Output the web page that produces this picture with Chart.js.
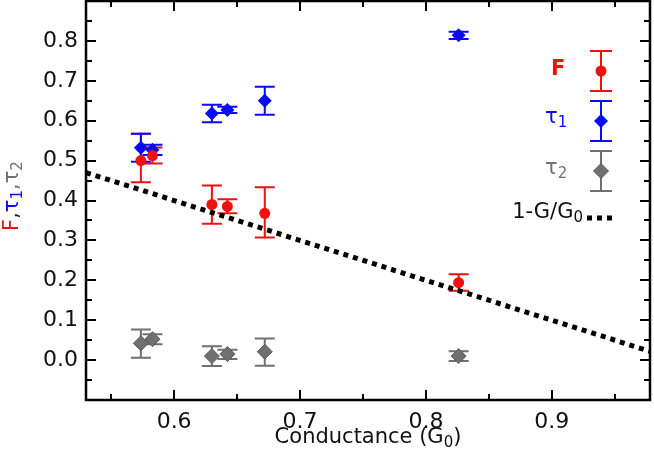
<!DOCTYPE html>
<html><head><meta charset="utf-8">
<script src="https://cdn.jsdelivr.net/npm/chart.js@4/dist/chart.umd.min.js"></script>
<style>html,body{margin:0;padding:0;background:#fff}canvas{display:block}</style>
</head><body>
<canvas id="c" width="654" height="460"></canvas>
<script>
// Data
const conductance = [0.5736, 0.5828, 0.630, 0.6423, 0.672, 0.826];
const F      = [0.500, 0.5125, 0.390, 0.385, 0.368, 0.194];
const F_lo   = [0.446, 0.493, 0.342, 0.368, 0.307, 0.174];
const F_hi   = [0.567, 0.533, 0.4375, 0.403, 0.433, 0.215];
const tau1    = [0.532, 0.527, 0.618, 0.627, 0.650, 0.814];
const tau1_lo = [0.497, 0.514, 0.596, 0.619, 0.615, 0.805];
const tau1_hi = [0.567, 0.540, 0.640, 0.635, 0.685, 0.823];
const tau2    = [0.042, 0.0525, 0.010, 0.015, 0.021, 0.010];
const tau2_lo = [0.006, 0.040, -0.015, 0.003, -0.014, -0.002];
const tau2_hi = [0.077, 0.065, 0.035, 0.026, 0.054, 0.022];
const lineG = [0.53, 0.978];
const lineY = [0.47, 0.022];
const xTicks = [0.6, 0.7, 0.8, 0.9];
const xMinorTicks = [0.55, 0.65, 0.75, 0.85, 0.95];
const yTicks = [0.0, 0.1, 0.2, 0.3, 0.4, 0.5, 0.6, 0.7, 0.8];
const yMinorTicks = [-0.05, 0.05, 0.15, 0.25, 0.35, 0.45, 0.55, 0.65, 0.75, 0.85];

const RED = 'rgb(240,16,16)', BLUE = 'rgb(10,10,250)', GRAY = 'rgb(112,112,112)';
const FONT = "'DejaVu Sans', Verdana, sans-serif";

const pts = (xs, ys) => xs.map((x, i) => ({x, y: ys[i]}));

const errSeries = [
  {ys: F, lo: F_lo, hi: F_hi, color: RED},
  {ys: tau1, lo: tau1_lo, hi: tau1_hi, color: BLUE},
  {ys: tau2, lo: tau2_lo, hi: tau2_hi, color: GRAY}
];

function drawDiamond(ctx, x, y, r, fill, stroke) {
  ctx.beginPath();
  ctx.moveTo(x, y - r); ctx.lineTo(x + r, y); ctx.lineTo(x, y + r); ctx.lineTo(x - r, y); ctx.closePath();
  ctx.fillStyle = fill; ctx.fill();
  if (stroke) { ctx.strokeStyle = stroke; ctx.lineWidth = 1; ctx.stroke(); }
}
function drawErr(ctx, x, y1, y2, color, half) {
  ctx.strokeStyle = color; ctx.lineWidth = 2;
  ctx.beginPath();
  ctx.moveTo(x, y1); ctx.lineTo(x, y2);
  ctx.moveTo(x - half, y1); ctx.lineTo(x + half, y1);
  ctx.moveTo(x - half, y2); ctx.lineTo(x + half, y2);
  ctx.stroke();
}
function partsWidth(ctx, parts, size, subSize, bold) {
  let w = 0;
  parts.forEach(p => { ctx.font = (bold && !p[2] ? 'bold ' : '') + (p[2] ? subSize : size) + 'px ' + FONT; w += ctx.measureText(p[0]).width; });
  return w;
}
function drawParts(ctx, parts, x, y, size, subSize, subDy, bold) {
  ctx.textBaseline = 'middle'; ctx.textAlign = 'left';
  parts.forEach(p => {
    ctx.font = (bold && !p[2] ? 'bold ' : '') + (p[2] ? subSize : size) + 'px ' + FONT;
    ctx.fillStyle = p[1];
    ctx.fillText(p[0], x, y + (p[2] ? subDy : 0));
    x += ctx.measureText(p[0]).width;
  });
}

const errorBarPlugin = {
  id: 'errbars',
  beforeDatasetsDraw(chart) {
    const {ctx, scales: {x, y}} = chart;
    ctx.save();
    errSeries.forEach(s => {
      conductance.forEach((g, i) => {
        drawErr(ctx, x.getPixelForValue(g), y.getPixelForValue(s.lo[i]), y.getPixelForValue(s.hi[i]), s.color, 10);
      });
    });
    ctx.restore();
  }
};

const framePlugin = {
  id: 'frame',
  afterDatasetsDraw(chart) {
    const {ctx, chartArea: a, scales: {x, y}} = chart;
    ctx.save();
    ctx.strokeStyle = '#000'; ctx.lineWidth = 2;
    ctx.beginPath();
    const tick = (vals, len) => {
      vals.forEach(v => {
        const px = Math.round(x.getPixelForValue(v));
        if (px > a.left && px < a.right) {
          ctx.moveTo(px, a.bottom); ctx.lineTo(px, a.bottom - len);
          ctx.moveTo(px, a.top); ctx.lineTo(px, a.top + len);
        }
      });
    };
    const ytick = (vals, len) => {
      vals.forEach(v => {
        const py = Math.round(y.getPixelForValue(v));
        if (py > a.top && py < a.bottom) {
          ctx.moveTo(a.left, py); ctx.lineTo(a.left + len, py);
          ctx.moveTo(a.right, py); ctx.lineTo(a.right - len, py);
        }
      });
    };
    tick(xTicks, 10); tick(xMinorTicks, 6);
    ytick(yTicks, 10); ytick(yMinorTicks, 6);
    ctx.stroke();
    ctx.lineWidth = 2.5;
    ctx.strokeRect(a.left, a.top, a.right - a.left, a.bottom - a.top);

    // axis titles
    const xt = [['Conductance (G', '#111'], ['0', '#111', true], [')', '#111']];
    const wx = partsWidth(ctx, xt, 21, 15);
    drawParts(ctx, xt, (a.left + a.right) / 2 - wx / 2, 438, 21, 15, 5);

    const yt = [['F', RED], [',', '#222'], ['\u03c4', BLUE], ['1', BLUE, true], [',', GRAY], ['\u03c4', GRAY], ['2', GRAY, true]];
    ctx.translate(13, 196);
    ctx.rotate(-Math.PI / 2);
    const wy = partsWidth(ctx, yt, 21, 15);
    drawParts(ctx, yt, -wy / 2, 0, 21, 15, 5);
    ctx.restore();

    // legend
    ctx.save();
    const lx = 601;
    drawErr(ctx, lx, 51, 91, RED, 11);
    ctx.fillStyle = RED; ctx.beginPath(); ctx.arc(lx, 71, 5.5, 0, Math.PI * 2); ctx.fill();
    drawErr(ctx, lx, 101, 141, BLUE, 11);
    drawDiamond(ctx, lx, 121, 7, BLUE);
    drawErr(ctx, lx, 151, 191, GRAY, 11);
    drawDiamond(ctx, lx, 171, 7.5, GRAY, 'rgb(90,90,90)');
    drawParts(ctx, [['F', RED]], 551, 70, 21, 14, 5, true);
    drawParts(ctx, [['\u03c4', BLUE], ['1', BLUE, true]], 545, 118, 21, 15, 5);
    drawParts(ctx, [['\u03c4', GRAY], ['2', GRAY, true]], 545, 169, 21, 15, 5);
    const lt = [['1-G/G', '#111'], ['0', '#111', true]];
    const wl = partsWidth(ctx, lt, 21, 15);
    drawParts(ctx, lt, 583 - wl, 213, 21, 15, 5);
    ctx.strokeStyle = '#000'; ctx.lineWidth = 5; ctx.setLineDash([5, 5]);
    ctx.beginPath(); ctx.moveTo(587, 218); ctx.lineTo(614, 218); ctx.stroke();
    ctx.restore();
  }
};

const noPad = s => { s.paddingTop = 0; s.paddingBottom = 0; s.paddingLeft = 0; s.paddingRight = 0; };

new Chart(document.getElementById('c'), {
  type: 'scatter',
  data: {
    datasets: [
      {label: 'F', data: pts(conductance, F), pointStyle: 'circle', pointRadius: 5.5,
       backgroundColor: RED, borderColor: RED, borderWidth: 0, order: 1},
      {label: 'tau1', data: pts(conductance, tau1), pointStyle: 'rectRot', pointRadius: 7,
       backgroundColor: BLUE, borderColor: BLUE, borderWidth: 0, order: 2},
      {label: 'tau2', data: pts(conductance, tau2), pointStyle: 'rectRot', pointRadius: 7.5,
       backgroundColor: GRAY, borderColor: 'rgb(90,90,90)', borderWidth: 1, order: 3},
      {type: 'line', label: '1-G/G0', data: pts(lineG, lineY), showLine: true, pointRadius: 0,
       borderColor: '#000', borderWidth: 5, borderDash: [5, 5], fill: false, order: 10}
    ]
  },
  options: {
    responsive: false, animation: false, events: [],
    layout: {autoPadding: false, padding: {top: 1, right: 4, left: 0, bottom: 0}},
    plugins: {legend: {display: false}, tooltip: {enabled: false}},
    scales: {
      x: {type: 'linear', min: 0.53, max: 0.978,
          grid: {display: false, drawTicks: false}, border: {display: false},
          afterBuildTicks: s => { s.ticks = xTicks.map(v => ({value: v})); },
          afterFit: s => { s.height = 60; noPad(s); },
          ticks: {padding: 9, color: '#111', font: {family: FONT, size: 22}, maxRotation: 0,
                  callback: v => v.toFixed(1)}},
      y: {type: 'linear', min: -0.1, max: 0.9,
          grid: {display: false, drawTicks: false}, border: {display: false},
          afterBuildTicks: s => { s.ticks = yTicks.map(v => ({value: v})); },
          afterFit: s => { s.width = 86; noPad(s); },
          ticks: {padding: 8, color: '#111', font: {family: FONT, size: 22},
                  callback: v => v.toFixed(1)}}
    }
  },
  plugins: [errorBarPlugin, framePlugin]
});
</script>
</body></html>
